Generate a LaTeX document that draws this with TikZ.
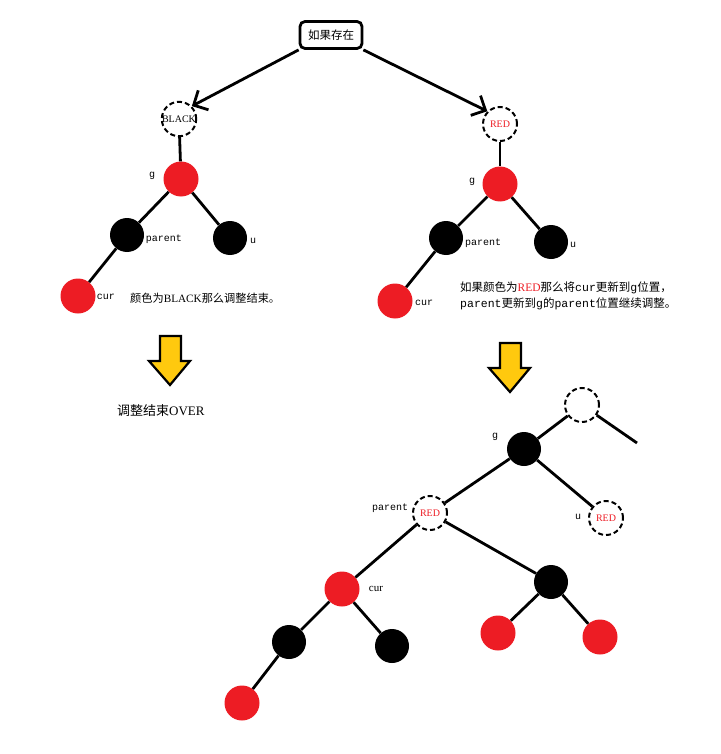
\documentclass[tikz,border=0pt]{standalone}
\usepackage{fontspec}
\setmainfont{Liberation Serif}
\newfontfamily\cjk{Noto Sans CJK SC}
\newfontfamily\lbl{Liberation Mono}
\usetikzlibrary{arrows.meta}
\definecolor{pred}{HTML}{ED1C24}
\definecolor{pyel}{HTML}{FFC90E}
\tikzset{
  rednode/.style={circle,fill=pred,minimum size=35pt,inner sep=0pt},
  blknode/.style={circle,fill=black,minimum size=34pt,inner sep=0pt},
  dashnode/.style={circle,draw=black,line width=2pt,dash pattern=on 5pt off 3pt,minimum size=34pt,inner sep=0pt,font=\fontsize{10}{10}\selectfont},
  edge/.style={line width=2.8pt},
  lab/.style={font=\lbl\fontsize{10}{10}\selectfont,inner sep=0pt},
  note/.style={font=\fontsize{11.5}{16}\selectfont,inner sep=0pt,align=left},
  bigarrow/.style={line width=2.8pt,-{Straight Barb[length=11pt,width=22pt,line width=2.8pt]}},
  yarrow/.style={fill=pyel,draw=black,line width=2.2pt,line join=miter}
}
\begin{document}
\begin{tikzpicture}[x=1pt,y=-1pt]
\useasboundingbox (0,0) rectangle (720,754);
% top box
\node[draw,line width=2.8pt,rounded corners=5pt,minimum width=62pt,minimum height=27pt,inner sep=2pt,font=\cjk\fontsize{11.5}{11.5}\selectfont] (top) at (331,35) {如果存在};
% left tree
\node[dashnode] (lb) at (179,119) {BLACK};
\node[rednode] (lg) at (181,179) {};
\node[blknode] (lp) at (127,235) {};
\node[blknode] (lu) at (230,238) {};
\node[rednode] (lc) at (78,296) {};
\draw[bigarrow] (top.south west) -- (lb.north east);
\draw[edge] (lb) -- (lg);
\draw[edge] (lg) -- (lp);
\draw[edge] (lg) -- (lu);
\draw[edge] (lp) -- (lc);
\node[lab] (lgl) at (152,176) {g};
\node[lab] (lpl) at (164,239) {parent};
\node[lab] (lul) at (253,241) {u};
\node[lab] (lcl) at (106,297) {cur};
\node[note,anchor=west,font=\fontsize{11.2}{16}\selectfont] (lnote) at (130,298) {\cjk 颜色为\rmfamily BLACK\cjk 那么调整结束。};
% left yellow arrow
\draw[yarrow] (160,336) -- (181,336) -- (181,361) -- (190,361) -- (170,385) -- (149,361) -- (160,361) -- cycle;
\node[note,anchor=west,font=\fontsize{13}{13}\selectfont] (over) at (117,411) {\cjk 调整结束\rmfamily OVER};
% right tree
\node[dashnode,text=pred] (rr) at (500,124) {RED};
\node[rednode] (rg) at (500,184) {};
\node[blknode] (rp) at (446,238) {};
\node[blknode] (ru) at (551,242) {};
\node[rednode] (rc) at (395,301) {};
\draw[bigarrow] (top.south east) -- (rr.north west);
\draw[edge] (rr) -- (rg);
\draw[edge] (rg) -- (rp);
\draw[edge] (rg) -- (ru);
\draw[edge] (rp) -- (rc);
\node[lab] (rgl) at (472,182) {g};
\node[lab] (rpl) at (483,243) {parent};
\node[lab] (rul) at (573,245) {u};
\node[lab] (rcl) at (424,303) {cur};
\node[note,anchor=north west] (rnote) at (460,282) {\cjk 如果颜色为{\rmfamily\color{pred}RED}\cjk 那么将\lbl cur\cjk 更新到\lbl g\cjk 位置，\\\lbl parent\cjk 更新到\lbl g\cjk 的\lbl parent\cjk 位置继续调整。};
% right yellow arrow
\draw[yarrow] (500,343) -- (521,343) -- (521,368) -- (530,368) -- (510,392) -- (489,368) -- (500,368) -- cycle;
% bottom tree
\node[dashnode] (bt) at (582,405) {};
\coordinate (btr) at (637,443);
\node[blknode] (bg) at (524,449) {};
\node[dashnode,text=pred] (bp) at (430,513) {RED};
\node[dashnode,text=pred] (bu) at (606,518) {RED};
\node[rednode] (bc) at (342,589) {};
\node[blknode] (bs) at (551,582) {};
\node[blknode] (bcl) at (289,642) {};
\node[blknode] (bcr) at (392,646) {};
\node[rednode] (bll) at (242,703) {};
\node[rednode] (bsl) at (498,633) {};
\node[rednode] (bsr) at (600,637) {};
\draw[edge] (bt) -- (btr);
\draw[edge] (bg) -- (bt);
\draw[edge] (bg) -- (bp);
\draw[edge] (bg) -- (bu);
\draw[edge] (bp) -- (bc);
\draw[edge] (bp) -- (bs);
\draw[edge] (bc) -- (bcl);
\draw[edge] (bc) -- (bcr);
\draw[edge] (bcl) -- (bll);
\draw[edge] (bs) -- (bsl);
\draw[edge] (bs) -- (bsr);
\node[lab] (bgl) at (495,437) {g};
\node[lab] (bpl) at (390,508) {parent};
\node[lab] (bul) at (578,517) {u};
\node[lab,font=\rmfamily\fontsize{11}{11}\selectfont] (bcurl) at (376,589) {cur};
\end{tikzpicture}
\end{document}
